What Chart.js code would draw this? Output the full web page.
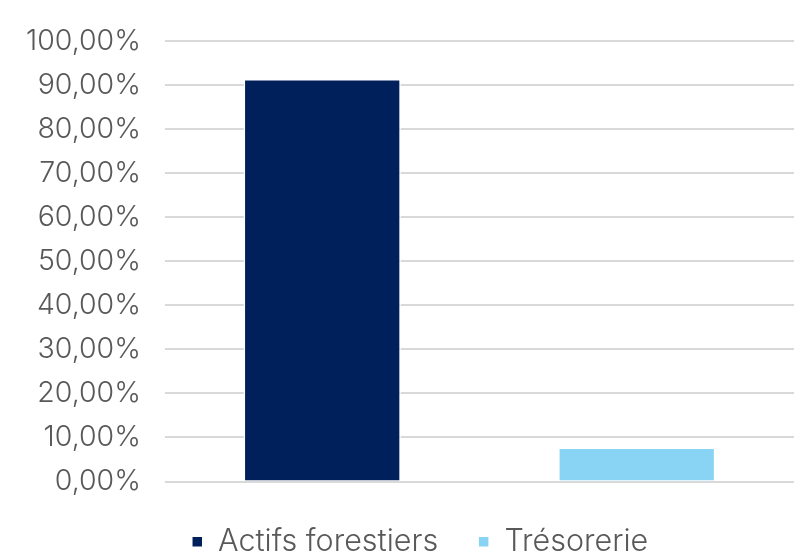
<!DOCTYPE html>
<html>
<head>
<meta charset="utf-8">
<script src="https://cdn.jsdelivr.net/npm/chart.js@4"></script>
<style>
  body { margin: 0; background: #fff; }
  #wrap { width: 794px; height: 555px; }
</style>
</head>
<body>
<div id="wrap"><canvas id="myChart"></canvas></div>
<script>
const categories = ['Actifs forestiers', 'Trésorerie'];
const actifsForestiers = [91.4, null];
const tresorerie = [null, 7.7];
const yTicks = [0, 10, 20, 30, 40, 50, 60, 70, 80, 90, 100];

const ctx = document.getElementById('myChart');

// the legend in the reference sits a little right of centre
const legendShift = {
    id: 'legendShift',
    afterUpdate(chart) {
        chart.legend.left += 22;
        chart.legend.right += 22;
    }
};

new Chart(ctx, {
    type: 'bar',
    data: {
        labels: categories,
        datasets: [{
            label: 'Actifs forestiers',
            data: actifsForestiers,
            backgroundColor: '#00205C',
            borderColor: '#ffffff',
            borderWidth: 1.5,
            grouped: false
        },
        {
            label: 'Trésorerie',
            data: tresorerie,
            backgroundColor: '#89D4F5',
            borderColor: '#ffffff',
            borderWidth: 1.5,
            grouped: false
        }]
    },
    options: {
        responsive: true,
        maintainAspectRatio: false,
        animation: false,
        categoryPercentage: 1,
        barPercentage: 0.5,
        layout: {
            padding: { top: 25, right: 0, left: 2, bottom: -12 }
        },
        plugins: {
            legend: {
                position: 'bottom',
                labels: {
                    color: '#595959',
                    font: { family: 'Inter', size: 30.5, weight: 300 },
                    boxWidth: 11,
                    boxHeight: 11,
                    padding: 40
                }
            },
            tooltip: { enabled: false }
        },
        scales: {
            x: {
                grid: { display: false },
                border: { display: false },
                ticks: { display: false },
                afterFit: function(axis) {
                    axis.height = 5;
                }
            },
            y: {
                min: 0,
                max: 100,
                afterBuildTicks: function(axis) {
                    axis.ticks = yTicks.map(v => ({ value: v }));
                },
                border: { display: false },
                grid: {
                    color: '#d9d9d9',
                    lineWidth: 2,
                    drawTicks: false
                },
                ticks: {
                    color: '#595959',
                    padding: 24,
                    font: { family: 'Inter', size: 28.5, weight: 300 },
                    callback: function(value) {
                        return value.toFixed(2).replace('.', ',') + '%';
                    }
                }
            }
        }
    },
    plugins: [legendShift]
});
</script>
</body>
</html>
